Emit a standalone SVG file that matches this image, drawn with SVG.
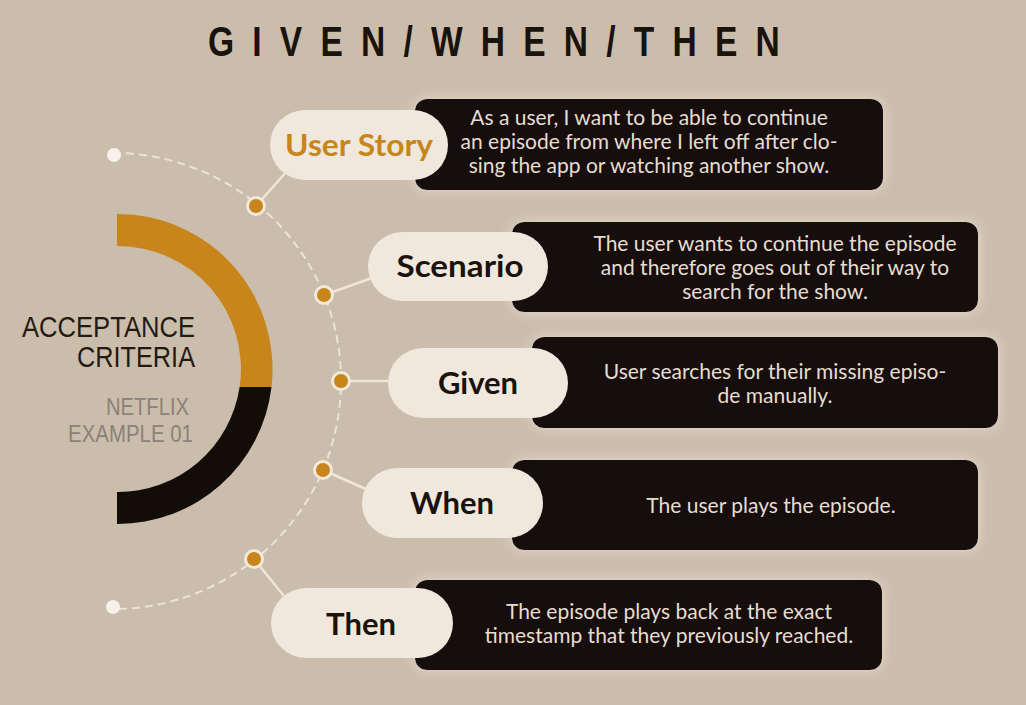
<svg xmlns="http://www.w3.org/2000/svg" width="1026" height="705" viewBox="0 0 1026 705">
<defs>
<filter id="glow" x="-10%" y="-30%" width="120%" height="160%">
<feGaussianBlur in="SourceAlpha" stdDeviation="7" result="b"/>
<feFlood flood-color="#efe6da" flood-opacity="0.75"/>
<feComposite operator="in" in2="b" result="g"/>
<feMerge><feMergeNode in="g"/><feMergeNode in="SourceGraphic"/></feMerge>
</filter>
</defs>
<style>
.box{fill:#130d08}
.pill{fill:#f0e8dc}
.lbl{font-family:Lato,"Open Sans",sans-serif;font-weight:bold;font-size:31px;fill:#1a120c;text-anchor:middle}
.desc{font-family:Lato,"Open Sans",sans-serif;font-size:21px;fill:#e6ddd0;text-anchor:middle}
.con{stroke:#efe6d8;stroke-width:2.5;fill:none}
.dot{fill:#c8851c;stroke:#f1e9dc;stroke-width:3}
.wdot{fill:#f6f1ea}
.acc{font-family:"Liberation Sans",Arial,sans-serif;font-size:30px;fill:#241a12;text-anchor:end}
.sub{font-family:"Liberation Sans",Arial,sans-serif;font-size:23px;fill:#8c8178;text-anchor:end}
</style>
<rect width="1026" height="705" fill="#cbbdac"/>
<text transform="translate(208,56) scale(0.78,1)" x="0" y="0" textLength="733" lengthAdjust="spacing" font-family="'Liberation Sans',Arial,sans-serif" font-weight="bold" font-size="43" fill="#1a120c">GIVEN/WHEN/THEN</text>

<g id="acceptance">
<path d="M117,214 A155,155 0 0 1 271.5,387 L239.6,387 A123,123 0 0 0 117,246 Z" fill="#c8851c"/>
<path d="M271.5,387 A155,155 0 0 1 117,524 L117,492 A123,123 0 0 0 239.6,387 Z" fill="#130d08"/>
<text class="acc" x="195" y="337" textLength="173" lengthAdjust="spacingAndGlyphs">ACCEPTANCE</text>
<text class="acc" x="195" y="367" textLength="118" lengthAdjust="spacingAndGlyphs">CRITERIA</text>
<text class="sub" x="189" y="415" textLength="83" lengthAdjust="spacingAndGlyphs">NETFLIX</text>
<text class="sub" x="193" y="442" textLength="125" lengthAdjust="spacingAndGlyphs">EXAMPLE 01</text>
</g>

<g id="connectors">
<path d="M113,153 A228,228 0 0 1 341,381 A228,228 0 0 1 113,609" stroke="#ece3d6" stroke-width="2" fill="none" stroke-dasharray="8 5"/>
<line class="con" x1="256" y1="206" x2="288" y2="170"/>
<line class="con" x1="324" y1="295" x2="372" y2="278"/>
<line class="con" x1="341" y1="381" x2="392" y2="381"/>
<line class="con" x1="323" y1="470" x2="368" y2="490"/>
<line class="con" x1="254" y1="559" x2="284" y2="596"/>
<circle class="wdot" cx="114" cy="155" r="7"/>
<circle class="wdot" cx="113" cy="607" r="7"/>
<circle class="dot" cx="256" cy="206" r="8.5"/>
<circle class="dot" cx="324" cy="295" r="8.5"/>
<circle class="dot" cx="341" cy="381" r="8.5"/>
<circle class="dot" cx="323" cy="470" r="8.5"/>
<circle class="dot" cx="254" cy="559" r="8.5"/>
</g>

<g id="user-story">
<rect class="box" x="415" y="99" width="468" height="91" rx="12" filter="url(#glow)"/>
<rect class="pill" x="270" y="110" width="178" height="70" rx="35"/>
<text class="lbl" x="359" y="156" style="fill:#c8851c" textLength="148" lengthAdjust="spacingAndGlyphs">User Story</text>
<text class="desc" x="649" y="125">As a user, I want to be able to continue</text>
<text class="desc" x="649" y="149">an episode from where I left off after clo-</text>
<text class="desc" x="649" y="173">sing the app or watching another show.</text>
</g>

<g id="scenario">
<rect class="box" x="512" y="222" width="466" height="90" rx="12" filter="url(#glow)"/>
<rect class="pill" x="368" y="232" width="180" height="69" rx="34.5"/>
<text class="lbl" x="460" y="277" textLength="127" lengthAdjust="spacingAndGlyphs">Scenario</text>
<text class="desc" x="775" y="251">The user wants to continue the episode</text>
<text class="desc" x="775" y="275">and therefore goes out of their way to</text>
<text class="desc" x="775" y="299">search for the show.</text>
</g>

<g id="given">
<rect class="box" x="532" y="337" width="466" height="91" rx="12" filter="url(#glow)"/>
<rect class="pill" x="388" y="348" width="180" height="70" rx="35"/>
<text class="lbl" x="478" y="394">Given</text>
<text class="desc" x="775" y="379">User searches for their missing episo-</text>
<text class="desc" x="775" y="403">de manually.</text>
</g>

<g id="when">
<rect class="box" x="512" y="460" width="466" height="90" rx="12" filter="url(#glow)"/>
<rect class="pill" x="362" y="468" width="181" height="70" rx="35"/>
<text class="lbl" x="452" y="514">When</text>
<text class="desc" x="771" y="513">The user plays the episode.</text>
</g>

<g id="then">
<rect class="box" x="415" y="580" width="467" height="90" rx="12" filter="url(#glow)"/>
<rect class="pill" x="271" y="588" width="182" height="70" rx="35"/>
<text class="lbl" x="361" y="635">Then</text>
<text class="desc" x="669" y="619">The episode plays back at the exact</text>
<text class="desc" x="669" y="643">timestamp that they previously reached.</text>
</g>
</svg>
